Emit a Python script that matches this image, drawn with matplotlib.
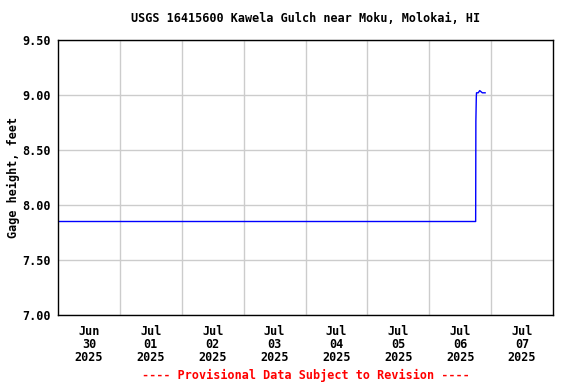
import pandas as pd
import numpy as np
import matplotlib
matplotlib.use('Agg')
import matplotlib.pyplot as plt
import matplotlib.dates as mdates

# gage height readings (feet)
times = ['2025-06-30 00:00', '2025-07-06 18:00', '2025-07-06 18:05', '2025-07-06 18:15',
         '2025-07-06 18:20', '2025-07-06 19:00', '2025-07-06 19:35', '2025-07-06 20:35',
         '2025-07-06 21:40']
heights = [7.85, 7.85, 8.76, 8.98, 9.02, 9.02, 9.04, 9.02, 9.02]

y_ticks = [7.00, 7.50, 8.00, 8.50, 9.00, 9.50]
day_labels = ['Jun\n30\n2025', 'Jul\n01\n2025', 'Jul\n02\n2025', 'Jul\n03\n2025',
              'Jul\n04\n2025', 'Jul\n05\n2025', 'Jul\n06\n2025', 'Jul\n07\n2025']

t = pd.to_datetime(times)
days = pd.date_range('2025-06-30', '2025-07-08', freq='D')
noons = days[:-1] + pd.Timedelta(hours=12)

plt.rcParams['font.family'] = 'DejaVu Sans Mono'
plt.rcParams['font.weight'] = 'bold'
fs = 8.5

fig = plt.figure(figsize=(5.76, 3.84), dpi=100)
ax = fig.add_axes([58/576, 69/384, 495/576, 275/384])

ax.plot(t, heights, color='#0000ff', lw=1.0)

ax.set_xlim(days[0], days[-1])
ax.set_ylim(7.0, 9.5)

# grid at midnights, labels at noon
ax.set_xticks(days[1:-1])
ax.set_xticklabels([])
ax.set_xticks(noons, minor=True)
ax.set_xticklabels(day_labels, minor=True, fontsize=fs, fontweight='bold', linespacing=1.02)
ax.set_yticks(y_ticks)
ax.set_yticklabels(['%.2f' % v for v in y_ticks], fontsize=fs, fontweight='bold')
ax.tick_params(which='both', length=0)
ax.tick_params(axis='x', which='minor', pad=7)
ax.tick_params(axis='y', pad=5)
ax.grid(True, which='major', color='#cccccc', lw=1.0)
ax.set_axisbelow(True)
for s in ax.spines.values():
    s.set_linewidth(1.0)
    s.set_color('black')

ax.set_ylabel('Gage height, feet', fontsize=fs, fontweight='bold', labelpad=2)
xc = (58 + 553) / 2 / 576
fig.text(xc, 1 - 19/384, 'USGS 16415600 Kawela Gulch near Moku, Molokai, HI',
         ha='center', va='center', fontsize=fs, fontweight='bold')
fig.text(xc, 1 - 375/384, '---- Provisional Data Subject to Revision ----',
         ha='center', va='center', fontsize=fs, fontweight='bold', color='red')

fig.savefig('out.png', dpi=100)
